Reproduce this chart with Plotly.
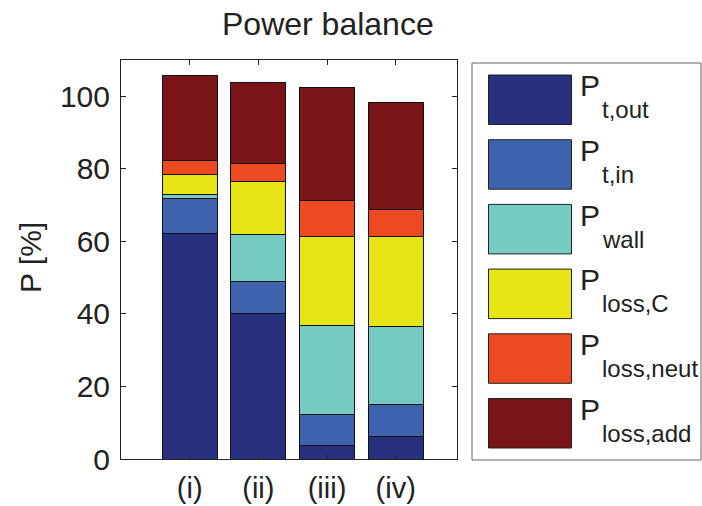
import plotly.graph_objects as go

# Power balance per case, stacked contributions in percent
cases = ["(i)", "(ii)", "(iii)", "(iv)"]
p_t_out = [62.2, 40.0, 3.7, 6.1]
p_t_in = [9.7, 8.9, 8.6, 8.8]
p_wall = [0.9, 13.1, 24.6, 21.5]
p_loss_c = [5.6, 14.4, 24.5, 24.9]
p_loss_neut = [3.9, 5.0, 10.0, 7.4]
p_loss_add = [23.4, 22.5, 31.0, 29.6]

series_names = ["t,out", "t,in", "wall", "loss,C", "loss,neut", "loss,add"]
series_values = [p_t_out, p_t_in, p_wall, p_loss_c, p_loss_neut, p_loss_add]
colors = ["#29307f", "#3e62ae", "#75cbc2", "#e7e614", "#ee4a22", "#7b1417"]

W, H = 702, 506
L, R, T, B = 121, 457, 60, 459  # plot area in pixels

def px_x(px):
    return (px - L) / (R - L)

def px_y(py):
    return (B - py) / (B - T)

FONT = "Liberation Sans, Arial, Helvetica, sans-serif"
INK = "#222222"

x_pos = list(range(1, len(cases) + 1))

fig = go.Figure()
for name, vals, col in zip(series_names, series_values, colors):
    fig.add_trace(go.Bar(
        x=x_pos, y=vals, width=0.8, name="P " + name,
        marker=dict(color=col, line=dict(color="#111111", width=1)),
        showlegend=False,
    ))

fig.update_layout(
    width=W, height=H,
    margin=dict(l=L, r=W - R, t=T, b=H - B, pad=0, autoexpand=False),
    barmode="stack",
    plot_bgcolor="white", paper_bgcolor="white",
    font=dict(family=FONT, color=INK, size=30),
)

fig.update_xaxes(
    range=[0, 4.893], tickvals=x_pos, ticktext=cases, automargin=False,
    ticks="inside", ticklen=5, tickcolor=INK, mirror="ticks",
    showline=True, linecolor=INK, linewidth=1, showgrid=False, zeroline=False,
    tickfont=dict(size=29, family=FONT, color=INK), ticklabelstandoff=3,
)
fig.update_yaxes(
    range=[0, 110], tickvals=[0, 20, 40, 60, 80, 100], automargin=False,
    ticks="inside", ticklen=5, tickcolor=INK, mirror="ticks",
    showline=True, linecolor=INK, linewidth=1, showgrid=False, zeroline=False,
    tickfont=dict(size=30, family=FONT, color=INK), ticklabelstandoff=4,
)

annotations = []
shapes = []

# Title and y-axis label
annotations.append(dict(
    text="Power balance", x=px_x(327.5), y=px_y(24), xref="paper", yref="paper",
    xanchor="center", yanchor="middle", showarrow=False,
    font=dict(size=32, family=FONT, color=INK),
))
annotations.append(dict(
    text="P [%]", x=px_x(30), y=px_y(258), xref="paper", yref="paper",
    xanchor="center", yanchor="middle", showarrow=False, textangle=-90,
    font=dict(size=30, family=FONT, color=INK),
))

# Legend box with swatches and subscripted labels
shapes.append(dict(
    type="rect", xref="paper", yref="paper",
    x0=px_x(472), x1=px_x(701), y0=px_y(460), y1=px_y(63),
    line=dict(color="#666666", width=1), fillcolor="rgba(0,0,0,0)",
))
for i, (name, col) in enumerate(zip(series_names, colors)):
    top = 75 + i * 64.7
    bot = top + 49.5
    mid = (top + bot) / 2
    shapes.append(dict(
        type="rect", xref="paper", yref="paper",
        x0=px_x(488.5), x1=px_x(571.5), y0=px_y(bot), y1=px_y(top),
        line=dict(color="#222222", width=1), fillcolor=col,
    ))
    annotations.append(dict(
        text="P", x=px_x(578), y=px_y(mid - 14), xref="paper", yref="paper",
        xanchor="left", yanchor="middle", showarrow=False,
        font=dict(size=30, family=FONT, color=INK),
    ))
    annotations.append(dict(
        text=name, x=px_x(600), y=px_y(mid + 10), xref="paper", yref="paper",
        xanchor="left", yanchor="middle", showarrow=False,
        font=dict(size=24, family=FONT, color=INK),
    ))

fig.update_layout(annotations=annotations, shapes=shapes)

fig.write_html("out.html")
